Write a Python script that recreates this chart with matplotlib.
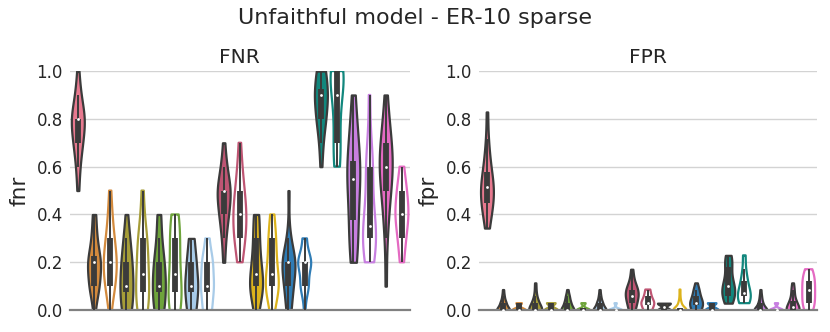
import numpy as np
import matplotlib
matplotlib.use("Agg")
import matplotlib.pyplot as plt

# 21 runs per panel, in plotting order; even index after 0 = filled, odd = hollow
colors = ["#e7798f",
          "#d38a3d", "#d38a3d",
          "#a69d38", "#a69d38",
          "#6ea43b", "#6ea43b",
          "#a8cbe8", "#a8cbe8",
          "#be5573", "#be5573",
          "#dcb31c", "#dcb31c",
          "#2f7cb5", "#2f7cb5",
          "#12877d", "#12877d",
          "#c77fe0", "#c77fe0",
          "#e46ac2", "#e46ac2"]
filled = [True] + [True, False] * 10

fnr = [
    [0.5, 0.6, 0.6, 0.7, 0.7, 0.7, 0.7, 0.7, 0.8, 0.8, 0.8, 0.8, 0.8, 0.8, 0.8, 0.8, 0.9, 0.9, 0.9, 1.0],
    [0.0] + [0.1] * 6 + [0.2] * 8 + [0.3] * 3 + [0.4] * 2,
    [0.0] + [0.1] * 5 + [0.2] * 7 + [0.3] * 4 + [0.4] * 2 + [0.5],
    [0.0] * 5 + [0.1] * 6 + [0.2] * 5 + [0.3] * 3 + [0.4],
    [0.0] * 5 + [0.1] * 5 + [0.2] * 4 + [0.3] * 4 + [0.4, 0.5],
    [0.0] * 5 + [0.1] * 6 + [0.2] * 5 + [0.3] * 2 + [0.4] * 2,
    [0.0] * 5 + [0.1] * 5 + [0.2] * 3 + [0.3] * 4 + [0.4] * 3,
    [0.0] * 5 + [0.1] * 7 + [0.2] * 5 + [0.3] * 3,
    [0.0] * 5 + [0.1] * 7 + [0.2] * 6 + [0.3] * 2,
    [0.2, 0.3, 0.3] + [0.4] * 5 + [0.5] * 8 + [0.6] * 3 + [0.7],
    [0.2] * 2 + [0.3] * 5 + [0.4] * 6 + [0.5] * 4 + [0.6] * 2 + [0.7],
    [0.0] * 2 + [0.1] * 8 + [0.2] * 4 + [0.3] * 3 + [0.4] * 3,
    [0.0] * 2 + [0.1] * 8 + [0.2] * 4 + [0.3] * 4 + [0.4] * 2,
    [0.0] * 3 + [0.1] * 5 + [0.2] * 9 + [0.3] * 2 + [0.5],
    [0.0] + [0.1] * 6 + [0.2] * 10 + [0.3] * 3,
    [0.6] + [0.7] * 2 + [0.8] * 5 + [0.9] * 7 + [1.0] * 5,
    [0.6] * 3 + [0.7] * 3 + [0.8] * 2 + [0.9] * 4 + [1.0] * 8,
    [0.2] * 2 + [0.3] * 3 + [0.4] * 2 + [0.5] * 3 + [0.6] * 5 + [0.7] * 2 + [0.8] * 2 + [0.9],
    [0.2] * 3 + [0.3] * 7 + [0.4] * 3 + [0.5] + [0.6] * 4 + [0.7, 0.9],
    [0.1, 0.3] + [0.4] * 2 + [0.5] * 3 + [0.6] * 6 + [0.7] * 4 + [0.8] * 2 + [0.9],
    [0.2] * 2 + [0.3] * 4 + [0.4] * 7 + [0.5] * 5 + [0.6] * 2,
]

fpr = [
    [0.343, 0.371, 0.4, 0.429, 0.429, 0.457, 0.457, 0.486, 0.486, 0.514,
     0.514, 0.514, 0.543, 0.543, 0.571, 0.6, 0.629, 0.657, 0.714, 0.829],
    [0.0] * 12 + [0.029] * 5 + [0.057] * 2 + [0.086],
    [0.0] * 14 + [0.029] * 6,
    [0.0] * 11 + [0.029] * 5 + [0.057] * 2 + [0.086, 0.114],
    [0.0] * 12 + [0.029] * 8,
    [0.0] * 11 + [0.029] * 5 + [0.057] * 3 + [0.086],
    [0.0] * 15 + [0.029] * 5,
    [0.0] * 12 + [0.029] * 5 + [0.057] * 2 + [0.086],
    [0.0] * 17 + [0.029] * 3,
    [0.0] * 3 + [0.029] * 3 + [0.057] * 5 + [0.086] * 5 + [0.114] * 2 + [0.143, 0.171],
    [0.0] * 5 + [0.029] * 8 + [0.057] * 4 + [0.086] * 3,
    [0.0] * 10 + [0.029] * 10,
    [0.0] * 15 + [0.029] * 3 + [0.057, 0.086],
    [0.0] * 5 + [0.029] * 7 + [0.057] * 4 + [0.086] * 3 + [0.114],
    [0.0] * 12 + [0.029] * 8,
    [0.029] * 2 + [0.057] * 4 + [0.086] * 4 + [0.114] * 3 + [0.143, 0.171] + [0.2] * 3 + [0.229] * 2,
    [0.029] * 4 + [0.057] * 6 + [0.086] * 3 + [0.114] * 2 + [0.143] * 2 + [0.171] + [0.229] * 2,
    [0.0] * 13 + [0.029] * 4 + [0.057] * 2 + [0.086],
    [0.0] * 16 + [0.029] * 4,
    [0.0] * 10 + [0.029] * 5 + [0.057] * 2 + [0.086] * 2 + [0.114],
    [0.0] * 3 + [0.029] * 3 + [0.057] * 3 + [0.086] * 3 + [0.114] * 3 + [0.143] * 3 + [0.171] * 2,
]

DARK = "#3b3b3b"


def kde(vals, n_grid=120):
    vals = np.asarray(vals, dtype=float)
    bw = vals.std(ddof=1) * len(vals) ** (-1 / 5)
    grid = np.linspace(vals.min(), vals.max(), n_grid)
    dens = np.exp(-0.5 * ((grid[:, None] - vals[None, :]) / bw) ** 2).sum(axis=1)
    return grid, dens / dens.max()


def draw_violins(ax, data):
    for i, vals in enumerate(data):
        vals = np.asarray(vals, dtype=float)
        grid, dens = kde(vals)
        half = dens * 0.4
        if filled[i]:
            ax.fill_betweenx(grid, i - half, i + half, facecolor=colors[i],
                             edgecolor=DARK, linewidth=1.6, zorder=2)
        else:
            ax.fill_betweenx(grid, i - half, i + half, facecolor="none",
                             edgecolor=colors[i], linewidth=1.6, zorder=2)
        q1, med, q3 = np.percentile(vals, [25, 50, 75])
        iqr = q3 - q1
        lo = vals[vals >= q1 - 1.5 * iqr].min()
        hi = vals[vals <= q3 + 1.5 * iqr].max()
        ax.plot([i, i], [lo, hi], color=DARK, lw=1.4, solid_capstyle="butt", zorder=3)
        ax.plot([i, i], [q1, q3], color=DARK, lw=4.2, solid_capstyle="butt", zorder=3)
        ax.scatter([i], [med], s=4, color="white", zorder=4, linewidths=0)


fig = plt.figure(figsize=(8.3, 3.32), dpi=100)
ax1 = fig.add_axes([0.084, 0.066, 0.41, 0.72])
ax2 = fig.add_axes([0.577, 0.066, 0.407, 0.72])

for ax, data, title, label in [(ax1, fnr, "FNR", "fnr"), (ax2, fpr, "FPR", "fpr")]:
    draw_violins(ax, data)
    ax.set_xlim(-0.5, len(data) - 0.5)
    ax.set_ylim(0, 1.0)
    ax.set_yticks([0.0, 0.2, 0.4, 0.6, 0.8, 1.0])
    ax.set_xticks([])
    ax.yaxis.grid(True, color="#d3d3d3", linewidth=1.0)
    ax.set_axisbelow(True)
    for side in ["left", "right", "top"]:
        ax.spines[side].set_visible(False)
    ax.spines["bottom"].set_color("#808080")
    ax.spines["bottom"].set_linewidth(1.6)
    ax.tick_params(axis="y", length=0, labelsize=12, colors="#262626", pad=5)
    ax.set_title(title, fontsize=14.5, color="#262626", pad=6)
    ax.set_ylabel(label, fontsize=15.5, color="#262626", labelpad=5)

fig.suptitle("Unfaithful model - ER-10 sparse", fontsize=16, color="#262626", y=0.975)
fig.savefig("out.png", dpi=100)
